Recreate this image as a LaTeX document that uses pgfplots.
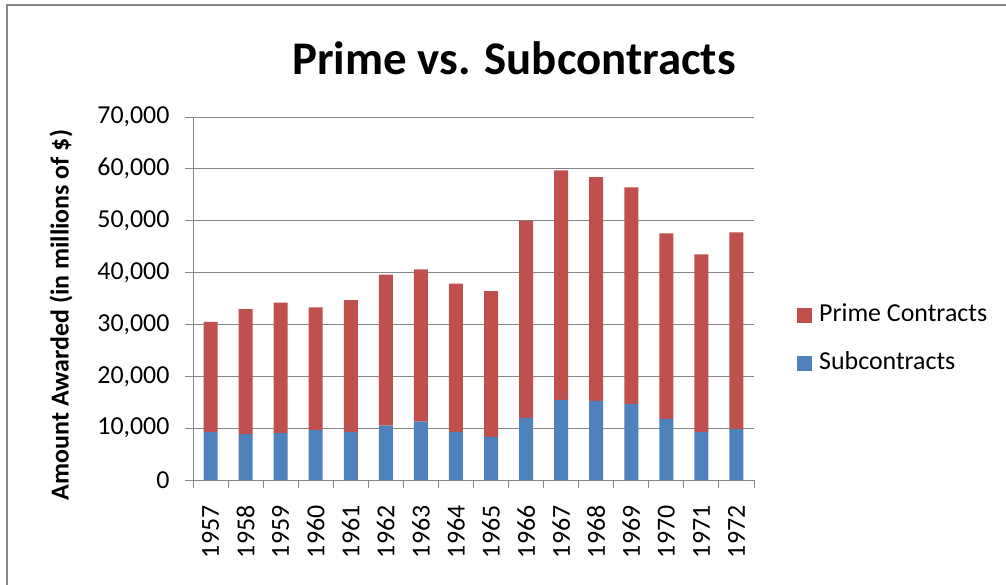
\documentclass[border=0pt]{standalone}
\usepackage{pgfplots}
\pgfplotsset{compat=1.18}
\usepackage{fontspec}
\setmainfont{Carlito}
\definecolor{exblue}{HTML}{4F81BD}
\definecolor{exred}{HTML}{C0504D}
\definecolor{gridgray}{HTML}{868686}
\begin{document}
\begin{tikzpicture}
\path[use as bounding box] (0,0) rectangle (1006bp,-585bp);
\draw[color=gridgray, line width=2bp] (7bp,-590bp) -- (7bp,-5bp) -- (1010bp,-5bp);
\node[font=\fontsize{47}{56}\selectfont\bfseries, anchor=base] at (514bp,-74bp) {Prime vs. Subcontracts};
\node[font=\fontsize{26}{31}\selectfont\bfseries, rotate=90, anchor=center] at (61bp,-315bp) {Amount Awarded (in millions of \$)};
\begin{axis}[
  at={(193bp,-480bp)}, anchor=south west,
  width=561bp, height=363bp, scale only axis,
  xmin=-0.5, xmax=15.5, ymin=0, ymax=70000,
  ybar stacked, bar width=0.4,
  axis x line*=bottom, axis y line*=left,
  axis line style={gridgray, line width=1bp, -},
  xtick={0,1,2,3,4,5,6,7,8,9,10,11,12,13,14,15},
  xticklabels={1957,1958,1959,1960,1961,1962,1963,1964,1965,1966,1967,1968,1969,1970,1971,1972},
  major x tick style={draw=none},
  minor xtick={-0.5,0.5,1.5,2.5,3.5,4.5,5.5,6.5,7.5,8.5,9.5,10.5,11.5,12.5,13.5,14.5,15.5},
  tick align=outside,
  major tick length=8bp, minor tick length=8bp,
  tick style={gridgray, line width=1bp},
  ytick={0,10000,20000,30000,40000,50000,60000,70000},
  ymajorgrids, grid style={gridgray, line width=1bp},
  scaled y ticks=false,
  /pgf/number format/1000 sep={,},
  /pgf/number format/assume math mode=true,
  xticklabel shift=14bp, yticklabel shift=12bp,
  x tick label style={rotate=90, anchor=east, font=\fontsize{26}{31}\selectfont},
  y tick label style={font=\fontsize{26}{31}\selectfont},
  legend style={at={(1.0766,0.388)}, anchor=west, draw=none, fill=none, inner sep=0pt,
    font=\fontsize{26}{31}\selectfont, row sep=22bp, column sep=7bp,
    nodes={inner sep=0pt, text height=19bp, text depth=7bp}},
  legend cell align=left, reverse legend,
]
\addplot[fill=exblue, draw=none, legend image code/.code={\fill[exblue] (0bp,-7.5bp) rectangle (15bp,7.5bp);}] coordinates {
(0,9300) (1,8850) (2,9050) (3,9620) (4,9300) (5,10510) (6,11280) (7,9300)
(8,8330) (9,11990) (10,15450) (11,15260) (12,14680) (13,11790) (14,9300) (15,9810)};
\addlegendentry{Subcontracts}
\addplot[fill=exred, draw=none, legend image code/.code={\fill[exred] (0bp,-7.5bp) rectangle (15bp,7.5bp);}] coordinates {
(0,21200) (1,24100) (2,25180) (3,23650) (4,25380) (5,29110) (6,29360) (7,28580)
(8,28080) (9,38010) (10,44250) (11,43140) (12,41730) (13,35770) (14,34230) (15,37950)};
\addlegendentry{Prime Contracts}
\end{axis}
\end{tikzpicture}
\end{document}
